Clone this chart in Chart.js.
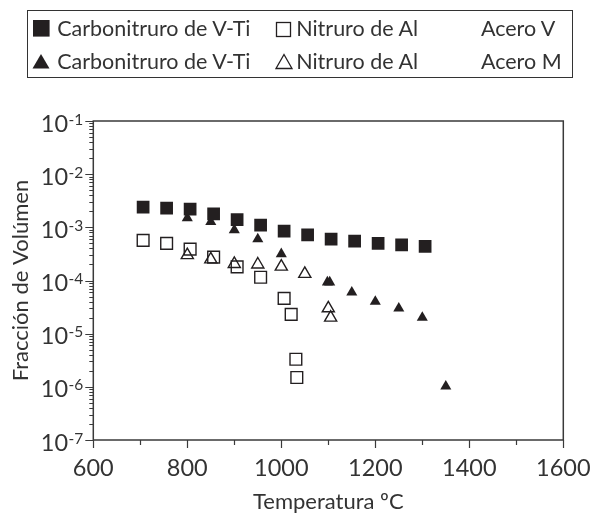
<!DOCTYPE html>
<html lang="es">
<head>
<meta charset="UTF-8">
<title>Fracción de Volúmen vs Temperatura</title>
<script src="https://cdn.jsdelivr.net/npm/chart.js"></script>
<style>
  body { margin: 0; background: #fff; font-family: Lato, sans-serif; color: #231f20; }
  #wrap { position: relative; width: 595px; height: 515px; }
  #chart { position: absolute; left: 0; top: 0; }
  .legend { position: absolute; left: 26.7px; top: 10px; width: 546.6px; height: 68px; border: 1.5px solid #333; box-sizing: border-box; }
  .lg { position: absolute; font-size: 21.5px; line-height: 20px; white-space: nowrap; color: #333; }
  .mk { position: absolute; }
</style>
</head>
<body>
<div id="wrap">
  <canvas id="chart" width="595" height="515"></canvas>
  <div class="legend" id="legend"></div>
</div>
<script>
// series names (legend)
var carbName = "Carbonitruro de V-Ti";
var nitName = "Nitruro de Al";
var steelNames = ["Acero V", "Acero M"];

// Acero V - carbonitruro (filled squares)
var tempVCarb = [706, 756, 806, 856, 906, 956, 1006, 1056, 1106, 1156, 1206, 1256, 1306];
var fracVCarb = [2.4e-3, 2.3e-3, 2.2e-3, 1.8e-3, 1.4e-3, 1.1e-3, 8.5e-4, 7.2e-4, 6.0e-4, 5.5e-4, 5.0e-4, 4.7e-4, 4.4e-4];

// Acero V - nitruro de Al (open squares)
var tempVNit = [706, 756, 806, 856, 906, 956, 1006, 1021, 1031, 1033];
var fracVNit = [5.7e-4, 5.0e-4, 3.9e-4, 2.75e-4, 1.8e-4, 1.15e-4, 4.6e-5, 2.3e-5, 3.3e-6, 1.5e-6];

// Acero M - carbonitruro (filled triangles)
var tempMCarb = [800, 850, 900, 950, 1000, 1098, 1103, 1150, 1200, 1250, 1300, 1350];
var fracMCarb = [1.5e-3, 1.27e-3, 8.9e-4, 6.0e-4, 3.15e-4, 9.3e-5, 9.3e-5, 6.0e-5, 4.0e-5, 3.0e-5, 2.0e-5, 1.02e-6];

// Acero M - nitruro de Al (open triangles)
var tempMNit = [800, 850, 900, 950, 1000, 1050, 1100, 1105];
var fracMNit = [3.0e-4, 2.5e-4, 2.05e-4, 2.0e-4, 1.82e-4, 1.33e-4, 3.0e-5, 2.0e-5];

// axes
var xTicks = [600, 800, 1000, 1200, 1400, 1600];
var xMinor = [700, 900, 1100, 1300, 1500];
var yExponents = [-7, -6, -5, -4, -3, -2, -1];

var ink = "#231f20";
var axisCol = "#3a3a3a";
var textCol = "#333";

function pts(xs, ys) {
  return xs.map(function (x, i) { return { x: x, y: ys[i] }; });
}

// legend, plain html text
var legend = document.getElementById("legend");
function addText(txt, left, top) {
  var s = document.createElement("span");
  s.className = "lg";
  s.textContent = txt;
  s.style.left = left + "px";
  s.style.top = top + "px";
  legend.appendChild(s);
}
function addMarker(kind, left, top) {
  var c = document.createElement("canvas");
  c.width = 20; c.height = 20;
  c.className = "mk";
  c.style.left = left + "px";
  c.style.top = top + "px";
  var g = c.getContext("2d");
  g.fillStyle = ink; g.strokeStyle = ink; g.lineWidth = 1.3;
  if (kind === "sq") g.fillRect(1, 1, 16.6, 16.6);
  if (kind === "osq") g.strokeRect(1.5, 1.5, 14, 14);
  if (kind === "tri") {
    g.beginPath(); g.moveTo(9, 1); g.lineTo(17.5, 15.5); g.lineTo(0.5, 15.5); g.closePath(); g.fill();
  }
  if (kind === "otri") {
    g.beginPath(); g.moveTo(9, 1.5); g.lineTo(17, 15.5); g.lineTo(1, 15.5); g.closePath(); g.stroke();
  }
  legend.appendChild(c);
}
addMarker("sq", 4.5, 8.2); addText(carbName, 29.5, 6.7);
addMarker("osq", 247.5, 9.5); addText(nitName, 268.5, 6.7);
addText(steelNames[0], 453.2, 6.7);
addMarker("tri", 4.5, 42); addText(carbName, 29.5, 39.6);
addMarker("otri", 247, 42); addText(nitName, 268.5, 39.6);
addText(steelNames[1], 453.2, 39.6);

// frame, ticks and 10^n labels
var axesPlugin = {
  id: "axesFrame",
  afterDraw: function (chart) {
    var ctx = chart.ctx, a = chart.chartArea;
    var xs = chart.scales.x, ys = chart.scales.y;
    ctx.save();
    ctx.strokeStyle = axisCol;
    ctx.lineWidth = 1.5;
    ctx.strokeRect(a.left, a.top, a.right - a.left, a.bottom - a.top);
    ctx.lineWidth = 1.2;
    ctx.beginPath();
    xTicks.forEach(function (v) {
      var px = Math.round(xs.getPixelForValue(v)) + 0.5;
      ctx.moveTo(px, a.bottom); ctx.lineTo(px, a.bottom + 8);
    });
    xMinor.forEach(function (v) {
      var px = Math.round(xs.getPixelForValue(v)) + 0.5;
      ctx.moveTo(px, a.bottom); ctx.lineTo(px, a.bottom + 5);
    });
    yExponents.forEach(function (e) {
      var py = Math.round(ys.getPixelForValue(Math.pow(10, e))) + 0.5;
      ctx.moveTo(a.left, py); ctx.lineTo(a.left - 8, py);
      if (e < -1) {
        for (var k = 2; k <= 9; k++) {
          var pm = Math.round(ys.getPixelForValue(k * Math.pow(10, e))) + 0.5;
          ctx.moveTo(a.left, pm); ctx.lineTo(a.left - 4, pm);
        }
      }
    });
    ctx.stroke();

    ctx.fillStyle = textCol;
    ctx.textBaseline = "alphabetic";
    ctx.textAlign = "right";
    yExponents.forEach(function (e) {
      var py = ys.getPixelForValue(Math.pow(10, e));
      var exp = String(e);
      ctx.font = "15.5px Lato";
      var ew = ctx.measureText(exp).width;
      ctx.fillText(exp, a.left - 10, py + 3.5);
      ctx.font = "23.5px Lato";
      ctx.fillText("10", a.left - 10.5 - ew, py + 10.5);
    });
    ctx.restore();
  }
};

new Chart(document.getElementById("chart"), {
  type: "scatter",
  data: {
    datasets: [
      { label: carbName + " " + steelNames[0], data: pts(tempVCarb, fracVCarb), pointStyle: "rect", pointRadius: 9, pointBackgroundColor: ink, pointBorderColor: ink, pointBorderWidth: 0 },
      { label: carbName + " " + steelNames[1], data: pts(tempMCarb, fracMCarb), pointStyle: "triangle", pointRadius: 6.4, pointBackgroundColor: ink, pointBorderColor: ink, pointBorderWidth: 0 },
      { label: nitName + " " + steelNames[0], data: pts(tempVNit, fracVNit), pointStyle: "rect", pointRadius: 8.3, pointBackgroundColor: "rgba(0,0,0,0)", pointBorderColor: ink, pointBorderWidth: 1.4 },
      { label: nitName + " " + steelNames[1], data: pts(tempMNit, fracMNit), pointStyle: "triangle", pointRadius: 7, pointBackgroundColor: "rgba(0,0,0,0)", pointBorderColor: ink, pointBorderWidth: 1.4 }
    ]
  },
  options: {
    responsive: false,
    animation: false,
    devicePixelRatio: 1,
    layout: { padding: { top: 121, right: 31.7, left: 0, bottom: 0 } },
    plugins: { legend: { display: false }, tooltip: { enabled: false } },
    scales: {
      x: {
        type: "linear",
        min: 600, max: 1600,
        afterFit: function (s) { s.height = 75; s.paddingLeft = 0; s.paddingRight = 0; },
        afterBuildTicks: function (s) { s.ticks = xTicks.map(function (v) { return { value: v }; }); },
        ticks: {
          font: { family: "Lato", size: 23.5 }, color: textCol, padding: 14, maxRotation: 0,
          callback: function (v) { return String(v); }
        },
        grid: { display: false, drawTicks: false },
        border: { display: false },
        title: { display: true, text: "Temperatura ºC", font: { family: "Lato", size: 22 }, color: textCol, padding: { top: 0, bottom: 0 } }
      },
      y: {
        type: "logarithmic",
        min: 1e-7, max: 1e-1,
        afterFit: function (s) { s.width = 93.3; s.paddingTop = 0; s.paddingBottom = 0; },
        ticks: { display: false },
        grid: { display: false, drawTicks: false },
        border: { display: false },
        title: { display: true, text: "Fracción de Volúmen", font: { family: "Lato", size: 22 }, color: textCol, padding: { top: 8, bottom: 0 } }
      }
    }
  },
  plugins: [axesPlugin]
});
</script>
</body>
</html>
